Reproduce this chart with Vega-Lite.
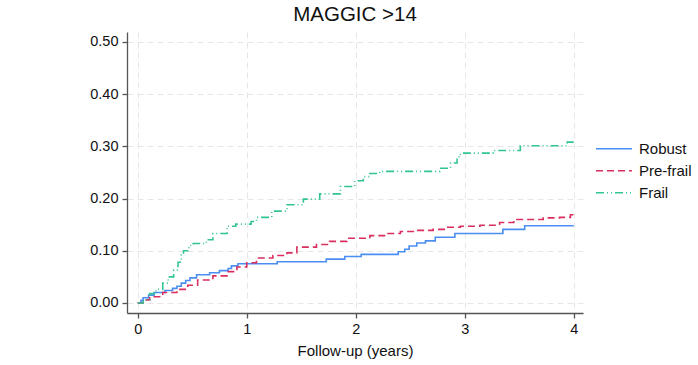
{
  "$schema": "https://vega.github.io/schema/vega-lite/v6.json",
  "autosize": "none",
  "padding": {"left": 127, "top": 32, "right": 115, "bottom": 52},
  "width": 456,
  "height": 281,
  "background": "white",
  "config": {
    "font": "Liberation Sans",
    "view": {"stroke": null},
    "axis": {
      "labelFont": "Liberation Sans",
      "titleFont": "Liberation Sans",
      "labelFontSize": 14.5,
      "titleFontSize": 15,
      "titleFontWeight": "normal",
      "labelColor": "#111111",
      "titleColor": "#111111",
      "domainColor": "#555555",
      "domainWidth": 1.3,
      "tickColor": "#555555",
      "tickWidth": 1.3,
      "tickSize": 5,
      "labelPadding": 4,
      "gridColor": "#e6e6e6",
      "gridDash": [6, 4],
      "gridWidth": 1
    }
  },
  "title": {
    "text": "MAGGIC >14",
    "font": "Liberation Sans",
    "fontSize": 20.5,
    "fontWeight": "normal",
    "color": "#111111",
    "anchor": "middle",
    "offset": 7
  },
  "data": {
    "values": [
      {"t": 0, "v": 0, "group": "Robust"},
      {"t": 0.03, "v": 0.005, "group": "Robust"},
      {"t": 0.05, "v": 0.01, "group": "Robust"},
      {"t": 0.1, "v": 0.015, "group": "Robust"},
      {"t": 0.15, "v": 0.02, "group": "Robust"},
      {"t": 0.25, "v": 0.024, "group": "Robust"},
      {"t": 0.32, "v": 0.028, "group": "Robust"},
      {"t": 0.36, "v": 0.032, "group": "Robust"},
      {"t": 0.4, "v": 0.038, "group": "Robust"},
      {"t": 0.44, "v": 0.043, "group": "Robust"},
      {"t": 0.48, "v": 0.048, "group": "Robust"},
      {"t": 0.54, "v": 0.054, "group": "Robust"},
      {"t": 0.66, "v": 0.058, "group": "Robust"},
      {"t": 0.75, "v": 0.062, "group": "Robust"},
      {"t": 0.83, "v": 0.066, "group": "Robust"},
      {"t": 0.86, "v": 0.071, "group": "Robust"},
      {"t": 0.92, "v": 0.075, "group": "Robust"},
      {"t": 1.28, "v": 0.079, "group": "Robust"},
      {"t": 1.73, "v": 0.084, "group": "Robust"},
      {"t": 1.9, "v": 0.089, "group": "Robust"},
      {"t": 2.05, "v": 0.093, "group": "Robust"},
      {"t": 2.39, "v": 0.098, "group": "Robust"},
      {"t": 2.45, "v": 0.103, "group": "Robust"},
      {"t": 2.49, "v": 0.109, "group": "Robust"},
      {"t": 2.56, "v": 0.115, "group": "Robust"},
      {"t": 2.64, "v": 0.119, "group": "Robust"},
      {"t": 2.73, "v": 0.126, "group": "Robust"},
      {"t": 2.91, "v": 0.133, "group": "Robust"},
      {"t": 3.35, "v": 0.141, "group": "Robust"},
      {"t": 3.55, "v": 0.148, "group": "Robust"},
      {"t": 4.0, "v": 0.148, "group": "Robust"},
      {"t": 0, "v": 0, "group": "Pre-frail"},
      {"t": 0.05, "v": 0.006, "group": "Pre-frail"},
      {"t": 0.11, "v": 0.012, "group": "Pre-frail"},
      {"t": 0.23, "v": 0.02, "group": "Pre-frail"},
      {"t": 0.36, "v": 0.026, "group": "Pre-frail"},
      {"t": 0.46, "v": 0.034, "group": "Pre-frail"},
      {"t": 0.55, "v": 0.044, "group": "Pre-frail"},
      {"t": 0.69, "v": 0.052, "group": "Pre-frail"},
      {"t": 0.82, "v": 0.06, "group": "Pre-frail"},
      {"t": 0.91, "v": 0.069, "group": "Pre-frail"},
      {"t": 1.0, "v": 0.077, "group": "Pre-frail"},
      {"t": 1.09, "v": 0.086, "group": "Pre-frail"},
      {"t": 1.24, "v": 0.091, "group": "Pre-frail"},
      {"t": 1.37, "v": 0.096, "group": "Pre-frail"},
      {"t": 1.46, "v": 0.107, "group": "Pre-frail"},
      {"t": 1.64, "v": 0.112, "group": "Pre-frail"},
      {"t": 1.76, "v": 0.118, "group": "Pre-frail"},
      {"t": 1.92, "v": 0.124, "group": "Pre-frail"},
      {"t": 2.13, "v": 0.129, "group": "Pre-frail"},
      {"t": 2.28, "v": 0.133, "group": "Pre-frail"},
      {"t": 2.41, "v": 0.137, "group": "Pre-frail"},
      {"t": 2.56, "v": 0.139, "group": "Pre-frail"},
      {"t": 2.71, "v": 0.141, "group": "Pre-frail"},
      {"t": 2.83, "v": 0.145, "group": "Pre-frail"},
      {"t": 2.96, "v": 0.147, "group": "Pre-frail"},
      {"t": 3.14, "v": 0.149, "group": "Pre-frail"},
      {"t": 3.32, "v": 0.154, "group": "Pre-frail"},
      {"t": 3.45, "v": 0.16, "group": "Pre-frail"},
      {"t": 3.72, "v": 0.163, "group": "Pre-frail"},
      {"t": 3.87, "v": 0.164, "group": "Pre-frail"},
      {"t": 3.97, "v": 0.169, "group": "Pre-frail"},
      {"t": 4.0, "v": 0.17, "group": "Pre-frail"},
      {"t": 0, "v": 0, "group": "Frail"},
      {"t": 0.05, "v": 0.006, "group": "Frail"},
      {"t": 0.11, "v": 0.018, "group": "Frail"},
      {"t": 0.17, "v": 0.026, "group": "Frail"},
      {"t": 0.23, "v": 0.038, "group": "Frail"},
      {"t": 0.28, "v": 0.05, "group": "Frail"},
      {"t": 0.33, "v": 0.063, "group": "Frail"},
      {"t": 0.37, "v": 0.078, "group": "Frail"},
      {"t": 0.4, "v": 0.092, "group": "Frail"},
      {"t": 0.42, "v": 0.1, "group": "Frail"},
      {"t": 0.47, "v": 0.11, "group": "Frail"},
      {"t": 0.51, "v": 0.114, "group": "Frail"},
      {"t": 0.63, "v": 0.121, "group": "Frail"},
      {"t": 0.69, "v": 0.133, "group": "Frail"},
      {"t": 0.82, "v": 0.147, "group": "Frail"},
      {"t": 0.9, "v": 0.151, "group": "Frail"},
      {"t": 1.04, "v": 0.156, "group": "Frail"},
      {"t": 1.09, "v": 0.164, "group": "Frail"},
      {"t": 1.23, "v": 0.176, "group": "Frail"},
      {"t": 1.37, "v": 0.188, "group": "Frail"},
      {"t": 1.52, "v": 0.199, "group": "Frail"},
      {"t": 1.67, "v": 0.209, "group": "Frail"},
      {"t": 1.86, "v": 0.223, "group": "Frail"},
      {"t": 1.99, "v": 0.234, "group": "Frail"},
      {"t": 2.07, "v": 0.242, "group": "Frail"},
      {"t": 2.13, "v": 0.248, "group": "Frail"},
      {"t": 2.22, "v": 0.252, "group": "Frail"},
      {"t": 2.77, "v": 0.258, "group": "Frail"},
      {"t": 2.87, "v": 0.268, "group": "Frail"},
      {"t": 2.93, "v": 0.28, "group": "Frail"},
      {"t": 2.96, "v": 0.287, "group": "Frail"},
      {"t": 3.26, "v": 0.292, "group": "Frail"},
      {"t": 3.51, "v": 0.301, "group": "Frail"},
      {"t": 3.94, "v": 0.308, "group": "Frail"},
      {"t": 4.0, "v": 0.308, "group": "Frail"}
    ]
  },
  "mark": {"type": "line", "interpolate": "step-after", "strokeWidth": 1.6, "clip": true},
  "encoding": {
    "x": {
      "field": "t",
      "type": "quantitative",
      "scale": {"domain": [-0.098, 4.085], "nice": false, "zero": false},
      "axis": {"values": [0, 1, 2, 3, 4], "title": "Follow-up (years)", "titlePadding": 8, "labelFlush": false}
    },
    "y": {
      "field": "v",
      "type": "quantitative",
      "scale": {"domain": [-0.0192, 0.519], "nice": false, "zero": false},
      "axis": {"values": [0, 0.1, 0.2, 0.3, 0.4, 0.5], "format": ".2f", "title": null, "labelFlush": false}
    },
    "color": {
      "field": "group",
      "type": "nominal",
      "scale": {"domain": ["Robust", "Pre-frail", "Frail"], "range": ["#4a8ef2", "#d92e5e", "#33c494"]},
      "legend": {
        "title": null,
        "orient": "none",
        "legendX": 468,
        "legendY": 106,
        "symbolType": "stroke",
        "symbolSize": 1296,
        "symbolStrokeWidth": 1.6,
        "labelFontSize": 15,
        "labelFont": "Liberation Sans",
        "labelColor": "#111111",
        "labelOffset": 6,
        "clipHeight": 21.5,
        "rowPadding": 0
      }
    },
    "strokeDash": {
      "field": "group",
      "type": "nominal",
      "scale": {"domain": ["Robust", "Pre-frail", "Frail"], "range": [[1, 0], [7, 4], [8, 3, 1, 3, 1, 3]]},
      "legend": null
    }
  }
}
